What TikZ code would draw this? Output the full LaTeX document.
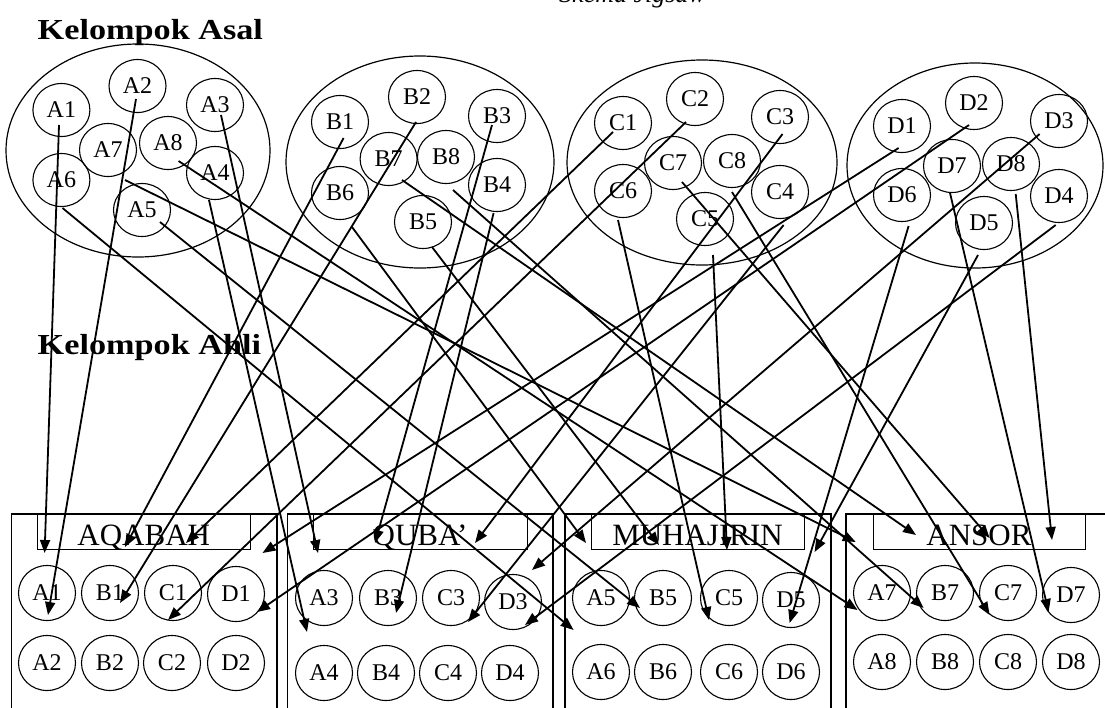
\documentclass[tikz,border=0pt]{standalone}
\usepackage{fontspec}
\setmainfont{Liberation Serif}
\usetikzlibrary{arrows.meta,shapes.geometric}
\begin{document}
\begin{tikzpicture}[x=1pt,y=-1pt,
  grp/.style={draw,ellipse,line width=1.2pt,inner sep=0pt},
  mem/.style={draw,ellipse,line width=1.1pt,minimum width=57pt,minimum height=53pt,inner sep=0pt,font=\fontsize{24}{24}\selectfont},
  memb/.style={mem,minimum height=55pt},
  tbox/.style={draw,line width=1pt,inner sep=0pt},
  obox/.style={draw,line width=1.1pt},
  ttl/.style={anchor=base,font=\fontsize{31}{31}\selectfont,inner sep=0pt},
  arr/.style={line width=1.8pt,-{Triangle[length=13pt,width=10pt]}},
  hd/.style={anchor=base west,inner sep=0pt,font=\bfseries\fontsize{29}{29}\selectfont}
]
\useasboundingbox (0,0) rectangle (1105,707);

% partly cut caption at the top
\node[anchor=base west,inner sep=0pt,font=\itshape\fontsize{26}{26}\selectfont] (cap) at (559,2) {Skema Jigsaw};

% headings
\node[hd] (hAsal) at (37.5,39) {\scalebox{1.18}[1]{Kelompok Asal}};
\node[hd] (hAhli) at (37.5,354) {\scalebox{1.18}[1]{Kelompok Ahli}};

% home group ellipses
\node[grp,minimum width=264pt,minimum height=213pt] (gA) at (138,150.5) {};
\node[grp,minimum width=268pt,minimum height=212pt] (gB) at (420,162) {};
\node[grp,minimum width=270pt,minimum height=205pt] (gC) at (702,162.5) {};
\node[grp,minimum width=256pt,minimum height=205pt] (gD) at (975,165.5) {};

% home group members
\foreach \n/\x/\y in {A1/61.4/110,A2/137.5/86,A3/215/105,A7/108/150,A8/168/143,A4/215/173,A6/61.4/180,A5/142/210,
  B1/340/122,B2/417/97,B3/497/116,B7/388.6/159,B8/446/157,B4/497/185,B6/340/193,B5/423/222,
  C1/623/123,C2/695/99,C3/780/117,C7/673/163,C8/732/161,C4/780/192,C6/623/191,C5/705/219,
  D1/902/126,D2/974/103,D3/1059/121,D7/952/166,D8/1011/164,D4/1059/196,D6/902/195,D5/984/223}
  \node[mem] (\n) at (\x,\y) {\n};

% expert group outer boxes
\draw[obox] (11.4,740) |- (277,514) -- (277,740);
\draw[obox] (287.5,740) |- (553,514) -- (553,740);
\draw[obox] (565,740) |- (831,514) -- (831,740);
\draw[obox] (846,740) |- (1120,514);

% title boxes
\node[tbox,minimum width=212.5pt,minimum height=35pt] (tAQ) at (143.75,531.5) {};
\node[tbox,minimum width=214pt,minimum height=35pt] (tQU) at (420,531.5) {};
\node[tbox,minimum width=213pt,minimum height=35pt] (tMU) at (697.5,531.5) {};
\node[tbox,minimum width=212pt,minimum height=35pt] (tAN) at (979,531.5) {};
\node[ttl] (lAQ) at (143.75,545) {AQABAH};
\node[ttl] (lQU) at (420,545) {QUBA’};
\node[ttl] (lMU) at (697.5,545) {MUHAJIRIN};
\node[ttl] (lAN) at (979,545) {ANSOR};

% expert group members
\foreach \n/\x/\y in {A1/47/593,B1/110/593,C1/173/593,D1/236/594,A2/47/663,B2/110/663,C2/172/663,D2/236/663,
  A3/324/598,B3/388/598,C3/451/598,D3/513/602,A4/324/673,B4/386/673,C4/448/673,D4/510/673,
  A5/601/598,B5/663/598,C5/729/598,D5/791/600,A6/601/672,B6/663/672,C6/729/672,D6/791/672,
  A7/882/593,B7/945/593,C7/1008/593,D7/1071/595,A8/882/662,B8/945/662,C8/1008/662,D8/1071/662}
  \node[memb] (e\n) at (\x,\y) {\n};

% arrows from home group to expert group
\foreach \n/\tx/\ty/\hx/\hy in {
  A1/59/125/44.6/553, A2/136/99/48/615, A3/221/115/318/553, A4/209/200/307/632,
  A5/160/222/640/608, A6/62.5/208/573.6/630, A7/125/180/855.7/542, A8/178.6/161/857.5/610,
  B1/343.6/138/125/547, B2/416/122/120/603, B3/492/125/375/543, B4/493.6/213/396/613,
  B5/432/247/659/545, B6/352/227/586/543, B7/402/180/916/535, B8/453/190/923.6/608,
  C1/613/132/186/543, C2/686/122/168/620, C3/782.5/134/475/543, C4/783.6/225/468/622,
  C5/713/255/727/550, C6/618/220/709/620, C7/682/182/989.6/538, C8/732/192/989.6/615,
  D1/898.6/148/262.5/553, D2/969/125/257/612, D3/1039.6/134/532/570, D4/1055.7/225/525/625,
  D5/978/255/814.6/552, D6/908.6/226/789.6/623, D7/950/193/1048.6/612, D8/1015.7/194/1052/540}
{
  \coordinate (t\n) at (\tx,\ty);
  \coordinate (h\n) at (\hx,\hy);
  \draw[arr] (t\n) -- (h\n);
}
\end{tikzpicture}
\end{document}
